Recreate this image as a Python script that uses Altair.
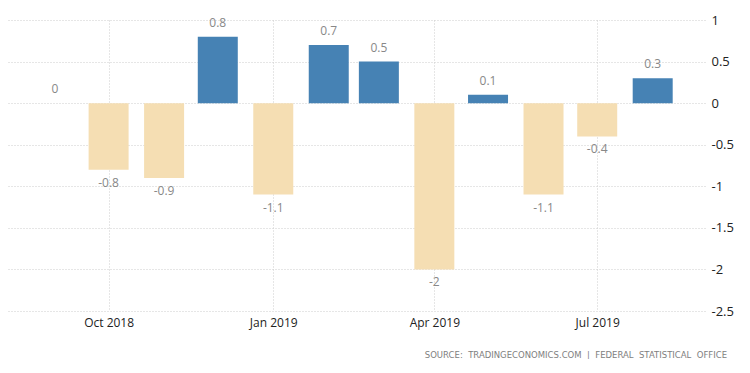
import altair as alt
import pandas as pd

months = ["2018-09-01", "2018-10-01", "2018-11-01", "2018-12-01", "2019-01-01", "2019-02-01",
          "2019-03-01", "2019-04-01", "2019-05-01", "2019-06-01", "2019-07-01", "2019-08-01"]
values = [0, -0.8, -0.9, 0.8, -1.1, 0.7, 0.5, -2, 0.1, -1.1, -0.4, 0.3]
labels = ["0", "-0.8", "-0.9", "0.8", "-1.1", "0.7", "0.5", "-2", "0.1", "-1.1", "-0.4", "0.3"]
tick_dates = ["2018-10-01", "2019-01-01", "2019-04-01", "2019-07-01"]
x_domain = ["2018-08-08T13:55:00", "2019-08-27T10:20:00"]
y_ticks = [1, 0.5, 0, -0.5, -1, -1.5, -2, -2.5]
source = "SOURCE:  TRADINGECONOMICS.COM  |  FEDERAL  STATISTICAL  OFFICE"


def ms(s):
    return int(pd.Timestamp(s, tz="UTC").value // 10**6)


df = pd.DataFrame({
    "t": [ms(m) for m in months],
    "value": values,
    "label": labels,
})

x = alt.X("t:T",
          scale=alt.Scale(type="utc", domain=[ms(d) for d in x_domain], nice=False),
          axis=alt.Axis(values=[ms(d) for d in tick_dates],
                        labelExpr="utcFormat(datum.value, '%b %Y')", title=None,
                        domain=False, ticks=False, grid=True,
                        gridColor="#cccccc", gridDash=[1, 2],
                        labelColor="#222222", labelFont="Open Sans",
                        labelFontSize=12, labelPadding=6, labelFlush=False))
y = alt.Y("value:Q",
          scale=alt.Scale(domain=[-2.5, 1], nice=False),
          axis=alt.Axis(orient="right", values=y_ticks, labelExpr="'' + datum.value",
                        title=None, domain=False, ticks=False, grid=True,
                        gridColor="#cccccc", gridDash=[1, 2],
                        labelColor="#222222", labelFont="Open Sans",
                        labelFontSize=13, labelPadding=6))

base = alt.Chart(df)

bars = base.mark_bar(size=40).encode(
    x=x, y=y, y2=alt.datum(0),
    color=alt.condition("datum.value > 0", alt.value("#4682b4"), alt.value("#f5deb3")),
)

txt_pos = base.transform_filter("datum.value >= 0").mark_text(
    baseline="bottom", dy=-7, font="Open Sans", fontSize=12, color="#888888"
).encode(x="t:T", y="value:Q", text="label:N")

txt_neg = base.transform_filter("datum.value < 0").mark_text(
    baseline="top", dy=8, font="Open Sans", fontSize=12, color="#888888"
).encode(x="t:T", y="value:Q", text="label:N")

src = alt.Chart(pd.DataFrame({"s": [source.replace(" ", "\u00a0")]})).mark_text(
    align="right", baseline="middle", font="DejaVu Sans", fontSize=8.5, color="#808080"
).encode(x=alt.value(719), y=alt.value(335), text="s:N")

chart = alt.layer(bars, txt_pos, txt_neg, src).properties(
    width=697, height=291,
    autosize=alt.AutoSizeParams(type="none"),
    padding={"left": 0, "top": 12, "right": 30, "bottom": 48},
).configure_view(stroke=None)

chart.save("out.html", embed_options={"renderer": "svg", "actions": False})
